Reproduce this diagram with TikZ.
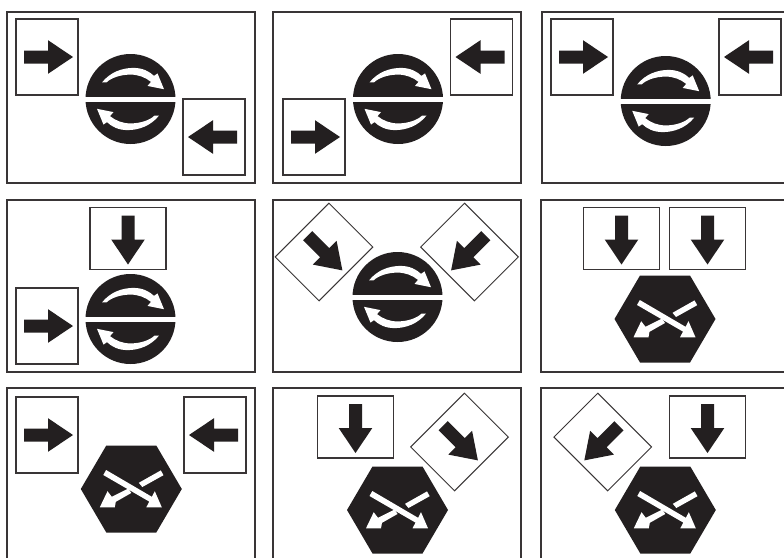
\documentclass[tikz,border=0pt]{standalone}
\definecolor{ink}{HTML}{231F20}
\tikzset{
  panelframe/.style={draw=ink!90,line width=1.4pt,fill=white},
  rectsign/.style={draw=ink!90,line width=1.25pt,fill=white},
  tiltsign/.style={draw=ink!90,line width=0.75pt,fill=white},
  pics/signbox/.style={code={
    \path[#1] (-31,-38) rectangle (31,38);
    \fill[ink] (-23,-6.5) -- (1,-6.5) -- (1,-16.8) -- (26,0) -- (1,16.8) -- (1,6.5) -- (-23,6.5) -- cycle;
  }},
  pics/rotor/.style={code={
    \fill[ink] (0,0) circle[radius=45];
    \fill[white] (-47,-2.4) rectangle (47,3.4);
    \foreach \r in {0,180}{
      \fill[white,rotate=\r,shift={(0,0.4)}]
        (-28.5,-17) .. controls (-20,-27.5) and (-8,-31.5) .. (3,-31.5)
        .. controls (12,-31.5) and (19,-28) .. (23.5,-23.5)
        -- (27,-26) -- (33.5,-10.2) -- (17,-13.5) -- (20.5,-17.5)
        .. controls (15,-22) and (8,-24.8) .. (0,-24.8)
        .. controls (-11,-24.8) and (-20,-21) .. (-24,-17) -- cycle;
    }
  }},
  pics/mixer/.style={code={
    \fill[ink] (-50.5,0) -- (-25,-43.5) -- (25,-43.5) -- (50.5,0) -- (25,43.5) -- (-25,43.5) -- cycle;
    \fill[white] (29.5,-18.6) -- (32.2,-13.8) -- (11,-2) -- (7.5,-6.2) -- cycle;
    \fill[white] (-3,-0.5) -- (0,4) -- (-15.5,12.8) -- (-16.5,18.3) -- (-31.5,18.3) -- (-23.8,2.2) -- (-19.5,7.8) -- cycle;
    \fill[white] (-25.2,-19) -- (-28,-14) -- (18,12.6) -- (15,18.3) -- (30.5,18.3) -- (23.5,2.2) -- (20.6,7.8) -- cycle;
  }}
}
\begin{document}
\begin{tikzpicture}[x=0.75pt,y=-0.75pt]
\useasboundingbox (0,0) rectangle (784,557);
\clip (0,0) rectangle (784,557);
% row 1
\path[panelframe] (7,12) rectangle (255,183);
\pic at (47,57) {signbox=rectsign};
\pic[rotate=180] at (214,137) {signbox=rectsign};
\pic at (130.5,99) {rotor};
\path[panelframe] (273,12) rectangle (521,183);
\pic[rotate=180] at (481.5,57) {signbox=rectsign};
\pic at (314,137) {signbox=rectsign};
\pic at (398,99) {rotor};
\path[panelframe] (542,12) rectangle (800,183);
\pic at (582,57) {signbox=rectsign};
\pic[rotate=180] at (750,57) {signbox=rectsign};
\pic at (665.7,101) {rotor};
% row 2
\path[panelframe] (7,200) rectangle (255,372);
\pic[rotate=-90] at (128,238.5) {signbox=rectsign};
\pic at (47,326) {signbox=rectsign};
\pic at (130.5,319) {rotor};
\path[panelframe] (273,200) rectangle (521,372);
\pic[rotate=-45] at (324,252) {signbox=tiltsign};
\pic[rotate=-135] at (469.5,252) {signbox=tiltsign};
\pic at (397.5,297) {rotor};
\path[panelframe] (541,200) rectangle (800,372);
\pic[rotate=-90] at (621.5,238.5) {signbox=rectsign};
\pic[rotate=-90] at (707.5,238.5) {signbox=rectsign};
\pic at (665,319) {mixer};
% row 3
\path[panelframe] (7,388) rectangle (255,600);
\pic at (47,435) {signbox=rectsign};
\pic[rotate=180] at (215,435) {signbox=rectsign};
\pic at (131.3,489) {mixer};
\path[panelframe] (273,388) rectangle (521,600);
\pic[rotate=-90] at (355.5,427) {signbox=rectsign};
\pic[rotate=-45] at (459.5,442) {signbox=tiltsign};
\pic at (397.5,510) {mixer};
\path[panelframe] (541,388) rectangle (800,600);
\pic[rotate=-90] at (707.5,427) {signbox=rectsign};
\pic[rotate=-135] at (602.7,442) {signbox=tiltsign};
\pic at (665.3,510) {mixer};
\end{tikzpicture}
\end{document}
